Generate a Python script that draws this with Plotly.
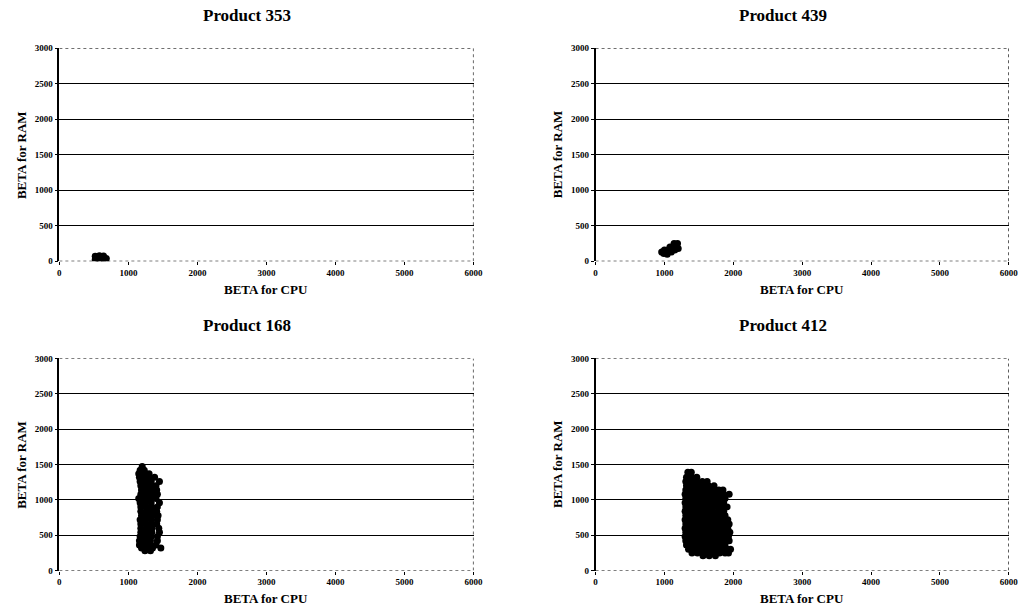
import plotly.graph_objects as go

titles = ["Product 353", "Product 439", "Product 168", "Product 412"]
x_title = "BETA for CPU"
y_title = "BETA for RAM"
x_ticks = [0, 1000, 2000, 3000, 4000, 5000, 6000]
y_ticks = [0, 500, 1000, 1500, 2000, 2500, 3000]

points_353 = [(520, 25), (520, 70), (560, 45), (580, 30), (580, 80), (620, 55),
              (640, 30), (640, 75), (680, 40)]

points_439 = [(960, 130), (990, 110), (1000, 160), (1040, 100), (1050, 160),
              (1080, 200), (1100, 130), (1130, 190), (1160, 220), (1190, 250),
              (1200, 180), (1140, 250), (1070, 150), (1150, 160)]

rows_168 = {
    1470: [1200],
    1420: [1170, 1230],
    1370: [1150, 1240, 1300],
    1320: [1160, 1230, 1310, 1380],
    1260: [1170, 1250, 1330, 1450],
    1200: [1180, 1260, 1340, 1400],
    1140: [1190, 1270, 1350, 1410],
    1080: [1180, 1260, 1340, 1420],
    1020: [1150, 1230, 1310, 1400],
    960: [1170, 1250, 1330, 1450],
    900: [1180, 1260, 1340, 1420],
    840: [1180, 1260, 1340, 1410],
    780: [1190, 1270, 1350, 1430],
    720: [1170, 1250, 1330, 1420],
    660: [1180, 1260, 1340, 1410],
    600: [1180, 1260, 1340, 1440],
    540: [1180, 1260, 1340, 1450],
    480: [1170, 1250, 1330, 1420],
    420: [1160, 1240, 1320, 1420],
    360: [1160, 1240, 1320, 1400],
    320: [1190, 1270, 1350, 1470],
    280: [1240, 1320],
}

rows_412 = {
    1390: [1340, 1390],
    1320: [1320, 1400, 1470],
    1260: [1310, 1390, 1470, 1550, 1620],
    1200: [1320, 1400, 1480, 1560, 1640, 1720],
    1140: [1310, 1390, 1470, 1550, 1630, 1710, 1790, 1850],
    1080: [1300, 1380, 1460, 1540, 1620, 1700, 1780, 1860, 1940],
    1020: [1310, 1390, 1470, 1550, 1630, 1710, 1790, 1880],
    960: [1300, 1380, 1460, 1540, 1620, 1700, 1780, 1860],
    900: [1310, 1390, 1470, 1550, 1630, 1710, 1790, 1870, 1910],
    840: [1300, 1380, 1460, 1540, 1620, 1700, 1780, 1860],
    780: [1310, 1390, 1470, 1550, 1630, 1710, 1790, 1880],
    720: [1300, 1380, 1460, 1540, 1620, 1700, 1780, 1860, 1920],
    660: [1310, 1390, 1470, 1550, 1630, 1710, 1790, 1870, 1940],
    600: [1300, 1380, 1460, 1540, 1620, 1700, 1780, 1860, 1920],
    540: [1310, 1390, 1470, 1550, 1630, 1710, 1790, 1870, 1950],
    480: [1300, 1380, 1460, 1540, 1620, 1700, 1780, 1860, 1930],
    420: [1310, 1390, 1470, 1550, 1630, 1710, 1790, 1870, 1940],
    360: [1320, 1400, 1480, 1560, 1640, 1720, 1800, 1880],
    300: [1350, 1430, 1510, 1590, 1670, 1750, 1830, 1910, 1960],
    250: [1400, 1480, 1560, 1640, 1720, 1800, 1880, 1930],
    210: [1560, 1650, 1740],
}


def from_rows(rows):
    xs, ys = [], []
    for y, xl in rows.items():
        for x in xl:
            xs.append(x)
            ys.append(y)
    return xs, ys


def from_pairs(pairs):
    return [p[0] for p in pairs], [p[1] for p in pairs]


series = [from_pairs(points_353), from_pairs(points_439),
          from_rows(rows_168), from_rows(rows_412)]

# figure fills the whole visible page (body margin removed below)
W, H = 1034, 618
# measured mapping from page pixels to photographed pixels
SX, AX = 0.988, 0.66
SY, AY = 0.983, 4.9

# panel boxes in picture pixels: (x0, x1, ytop, ybottom)
boxes = [(58, 472, 48, 261), (594, 1007, 48, 261),
         (58, 472, 358, 570), (594, 1007, 358, 570)]


def px(t):
    return ((t - AX) / SX) / W


def py(t):
    return 1 - ((t - AY) / SY) / H


serif = "Liberation Serif"
fig = go.Figure()
annotations = []
shapes = []
for i, ((xs, ys), (x0, x1, yt, yb)) in enumerate(zip(series, boxes)):
    n = "" if i == 0 else str(i + 1)
    xa = "x" + n
    ya = "y" + n
    fig.add_trace(go.Scatter(x=xs, y=ys, mode="markers", xaxis=xa, yaxis=ya,
                             marker=dict(color="black", size=7, line=dict(width=0)),
                             showlegend=False, hoverinfo="skip"))
    common = dict(zeroline=False, ticks="outside", ticklen=3,
                  tickcolor="black", tickwidth=1,
                  tickfont=dict(family=serif, size=9, color="black", weight="bold"),
                  fixedrange=True)
    fig.layout["xaxis" + n] = dict(domain=[px(x0), px(x1)], range=[0, 6000],
                                   tickvals=x_ticks, anchor=ya, showline=False,
                                   showgrid=False, **common)
    fig.layout["yaxis" + n] = dict(domain=[py(yb), py(yt)], range=[0, 3000],
                                   tickvals=y_ticks, anchor=xa, showline=True,
                                   linecolor="black", linewidth=1.5, showgrid=True,
                                   gridcolor="black", gridwidth=1, **common)
    for (ax0, ay0, ax1, ay1) in [(0, 3000, 6000, 3000), (6000, 0, 6000, 3000),
                                 (0, 0, 6000, 0)]:
        shapes.append(dict(type="line", xref=xa, yref=ya, x0=ax0, y0=ay0, x1=ax1, y1=ay1,
                           line=dict(color="black", width=1.2, dash="dot"), layer="below"))
    cx = (x0 + x1) / 2
    annotations.append(dict(text=titles[i], xref="paper", yref="paper",
                            x=px(cx - 19), y=py(yt - 33), showarrow=False,
                            xanchor="center", yanchor="middle",
                            font=dict(family=serif, size=17, color="black", weight="bold")))
    annotations.append(dict(text=x_title, xref="paper", yref="paper",
                            x=px(cx), y=py(yb + 28), showarrow=False,
                            xanchor="center", yanchor="middle",
                            font=dict(family=serif, size=13, color="black", weight="bold")))
    annotations.append(dict(text=y_title, xref="paper", yref="paper",
                            x=px(x0 - 38), y=py((yt + yb) / 2), showarrow=False,
                            textangle=-90, xanchor="center", yanchor="middle",
                            font=dict(family=serif, size=13, color="black", weight="bold")))

fig.update_layout(width=W, height=H, margin=dict(l=0, r=0, t=0, b=0),
                  paper_bgcolor="white", plot_bgcolor="white",
                  annotations=annotations, shapes=shapes, hovermode=False)

page_css = ("document.body.style.margin='0';"
            "document.body.style.overflow='hidden';"
            "document.documentElement.style.overflow='hidden';")
fig.write_html("out.html", post_script=page_css, config={"displayModeBar": False})
